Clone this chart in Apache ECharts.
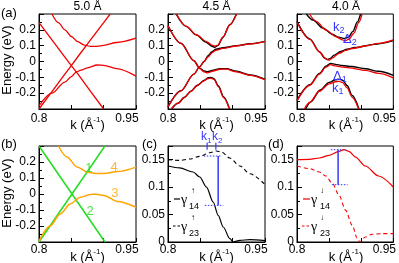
<!DOCTYPE html>
<html><head><meta charset="utf-8">
<script src="https://cdn.jsdelivr.net/npm/echarts@6/dist/echarts.min.js"></script>
<style>html,body{margin:0;padding:0;background:#fff}#c{width:399px;height:263px}</style>
</head><body><div id="c"></div>
<script>
// ---------- data ----------
const panelTitles = ['5.0 Å', '4.5 Å', '4.0 Å'];
const energyTickLabels = [-0.2, -0.1, 0, 0.1, 0.2];
const gammaTickLabels = [0, 0.05, 0.1, 0.15];
const kTickLabels = [0.8, 0.95];

// (a) 5.0 Å
const a1Line1 = [[0.8,-0.3],[0.82,-0.19],[0.84,-0.08],[0.85,-0.026],[0.86,0.03],[0.88,0.138],[0.9,0.245],[0.91,0.3]];
const a1Line2 = [[0.8,0.245],[0.82,0.136],[0.84,0.028],[0.85,-0.026],[0.86,-0.078],[0.88,-0.19],[0.9,-0.3]];
const a1Band4 = [[0.82,0.3],[0.83,0.245],[0.84,0.2],[0.85,0.158],[0.86,0.125],[0.87,0.104],[0.88,0.095],[0.89,0.096],[0.9,0.102],[0.92,0.12],[0.95,0.147]];
const a1Band3 = [[0.8,-0.28],[0.82,-0.2],[0.84,-0.13],[0.85,-0.095],[0.858,-0.065],[0.865,-0.055],[0.875,-0.04],[0.89,-0.022],[0.9,-0.024],[0.92,-0.045],[0.95,-0.092]];

// (a) 4.5 Å  red
const a2Upper = [[0.813,0.3],[0.8285,0.222],[0.844,0.169],[0.8595,0.126],[0.868,0.104],[0.8725,0.097],[0.877,0.104],[0.885,0.155],[0.8957,0.232],[0.906,0.3]];
const a2Mid2  = [[0.8,-0.286],[0.82,-0.185],[0.84,-0.08],[0.849,-0.034],[0.856,0.0],[0.862,0.03],[0.868,0.055],[0.874,0.07],[0.885,0.083],[0.906,0.098],[0.927,0.111],[0.95,0.126]];
const a2Mid1  = [[0.8,0.226],[0.82,0.115],[0.84,0.005],[0.849,-0.045],[0.856,-0.066],[0.861,-0.072],[0.87,-0.06],[0.88,-0.049],[0.89,-0.048],[0.906,-0.066],[0.927,-0.088],[0.95,-0.115]];
const a2Lower = [[0.805,-0.3],[0.815,-0.265],[0.825,-0.228],[0.835,-0.19],[0.845,-0.153],[0.855,-0.124],[0.862,-0.108],[0.866,-0.105],[0.871,-0.113],[0.878,-0.16],[0.886,-0.228],[0.895,-0.3]];
// (a) 4.5 Å  black
const a2UpperK = [[0.8125,0.3],[0.828,0.222],[0.8435,0.168],[0.859,0.122],[0.867,0.098],[0.872,0.089],[0.877,0.1],[0.885,0.152],[0.8955,0.232],[0.9058,0.3]];
const a2Mid2K  = [[0.8,-0.286],[0.82,-0.185],[0.84,-0.08],[0.849,-0.034],[0.856,0.002],[0.862,0.036],[0.868,0.062],[0.874,0.077],[0.885,0.087],[0.906,0.1],[0.927,0.112],[0.95,0.127]];
const a2Mid1K  = [[0.8,0.226],[0.82,0.115],[0.84,0.005],[0.849,-0.042],[0.856,-0.06],[0.861,-0.065],[0.87,-0.055],[0.88,-0.045],[0.89,-0.045],[0.906,-0.062],[0.927,-0.085],[0.95,-0.112]];
const a2LowerK = [[0.8055,-0.3],[0.8155,-0.264],[0.8255,-0.226],[0.8355,-0.187],[0.8455,-0.15],[0.8555,-0.12],[0.862,-0.103],[0.866,-0.1],[0.871,-0.108],[0.878,-0.155],[0.886,-0.224],[0.8952,-0.3]];

// (a) 4.0 Å  red
const a3Upper = [[0.8195,0.3],[0.83,0.254],[0.845,0.2],[0.86,0.158],[0.8707,0.137],[0.875,0.131],[0.881,0.141],[0.8886,0.179],[0.8963,0.248],[0.9014,0.3]];
const a3Mid2  = [[0.8,0.248],[0.82,0.14],[0.835,0.06],[0.845,0.017],[0.85,0.008],[0.855,0.022],[0.8655,0.052],[0.8758,0.07],[0.886,0.082],[0.9065,0.098],[0.927,0.115],[0.95,0.137]];
const a3Mid1  = [[0.8,-0.248],[0.82,-0.15],[0.835,-0.08],[0.845,-0.036],[0.852,-0.02],[0.86,-0.028],[0.868,-0.034],[0.881,-0.04],[0.9065,-0.056],[0.927,-0.075],[0.95,-0.103]];
const a3Lower = [[0.8115,-0.3],[0.8195,-0.259],[0.8348,-0.188],[0.85,-0.141],[0.86,-0.128],[0.8655,-0.126],[0.871,-0.133],[0.878,-0.167],[0.886,-0.226],[0.896,-0.3]];
// (a) 4.0 Å  black
const a3UpperK = [[0.8145,0.3],[0.825,0.262],[0.84,0.212],[0.855,0.172],[0.865,0.153],[0.874,0.145],[0.88,0.153],[0.887,0.19],[0.894,0.25],[0.899,0.3]];
const a3Mid2K  = [[0.8,0.252],[0.82,0.143],[0.835,0.062],[0.843,0.022],[0.847,0.012],[0.851,0.018],[0.858,0.04],[0.868,0.063],[0.878,0.078],[0.89,0.088],[0.92,0.108],[0.95,0.132]];
const a3Mid1K  = [[0.8,-0.245],[0.82,-0.147],[0.835,-0.076],[0.845,-0.03],[0.852,-0.012],[0.86,-0.018],[0.87,-0.025],[0.885,-0.032],[0.9065,-0.046],[0.927,-0.062],[0.95,-0.088]];
const a3LowerK = [[0.8135,-0.3],[0.8215,-0.255],[0.836,-0.18],[0.85,-0.132],[0.86,-0.115],[0.8655,-0.112],[0.871,-0.118],[0.878,-0.152],[0.886,-0.215],[0.8965,-0.3]];

// (b) unperturbed bands
const bLine1 = [[0.8,-0.3],[0.902,0.3]];
const bLine2 = [[0.8,0.3],[0.902,-0.3]];
const bBand4 = [[0.83,0.3],[0.8432,0.232],[0.8589,0.169],[0.8745,0.138],[0.8875,0.128],[0.9005,0.128],[0.9214,0.14],[0.95,0.168]];
const bBand3 = [[0.8,-0.294],[0.8172,-0.2],[0.8328,-0.125],[0.8484,-0.062],[0.864,-0.02],[0.8797,-0.003],[0.8875,-0.001],[0.9005,-0.009],[0.9214,-0.047],[0.95,-0.083]];
const bLabels = [['1',0.8773,0.162],['2',0.8789,-0.106],['4',0.916,0.169],['3',0.9175,0.006]];

// (c) spin up
const cGamma14 = [[0.8,0.1385],[0.818,0.135],[0.8388,0.1276],[0.8491,0.1185],[0.8595,0.1002],[0.8698,0.0729],[0.8776,0.0486],[0.8854,0.0273],[0.8957,0.006],[0.9009,0.0],[0.9112,0.003],[0.9267,0.0043],[0.95,0.0024]];
const cGamma23 = [[0.8,0.15],[0.8181,0.1488],[0.8336,0.1513],[0.8491,0.1561],[0.8647,0.1628],[0.875,0.1659],[0.8828,0.164],[0.8957,0.1531],[0.9112,0.1385],[0.9267,0.1245],[0.95,0.1045]];
const cBar = [[0.8776,0.1567],[0.8776,0.0668]];
const cCapTop = [[0.8554,0.1567],[0.8812,0.1567]];
const cCapBot = [[0.857,0.0668],[0.8854,0.0668]];
const cK1Mark = [[0.8605,0.168],[0.8605,0.181]];
const cK2Mark = [[0.874,0.168],[0.874,0.181]];

// (d) spin down
const dGamma14 = [[0.8,0.15],[0.8195,0.1507],[0.8348,0.1531],[0.8502,0.158],[0.8655,0.1652],[0.8732,0.1683],[0.8809,0.1652],[0.8911,0.1549],[0.9065,0.1385],[0.927,0.1203],[0.95,0.1002]];
const dGamma23 = [[0.8,0.1385],[0.8195,0.1337],[0.8348,0.1276],[0.8451,0.1203],[0.8553,0.1063],[0.8655,0.085],[0.8758,0.0577],[0.886,0.0304],[0.8937,0.0073],[0.8978,0.0],[0.9065,0.0091],[0.9167,0.014],[0.9321,0.0152],[0.95,0.0152]];
const dBar = [[0.864,0.1683],[0.864,0.1045]];
const dCapTop = [[0.8527,0.1683],[0.8768,0.1683]];
const dCapBot = [[0.8543,0.1045],[0.8788,0.1045]];

// ---------- styling / layout ----------
const FONT = '"Liberation Sans", Arial, sans-serif';
const SERIF = '"Liberation Serif", "Times New Roman", serif';
const RED = '#f00000', BLACK = '#000', GREEN = '#22dd22', ORANGE = '#ffa500', BLUE = '#3636ff';

const grids = [
  {left:39, top:14, width:97, height:95},
  {left:168, top:14, width:97, height:95},
  {left:297, top:14, width:98, height:95},
  {left:39, top:146, width:97, height:96},
  {left:168, top:146, width:97, height:96},
  {left:297, top:146, width:98, height:96}
].map(g => Object.assign({show:true, borderColor:'#000', borderWidth:1, backgroundColor:'transparent'}, g));

function xAx(i, margin) {
  return {gridIndex:i, type:'value', min:0.8, max:0.95, interval:0.05,
    axisLine:{show:true, onZero:false, lineStyle:{color:'#000', width:1}},
    axisTick:{show:true, inside:true, length:4, lineStyle:{color:'#000', width:1}},
    axisLabel:{show:true, customValues:kTickLabels, margin:margin, color:'#000', fontSize:12, fontFamily:FONT,
      formatter: v => Math.abs(v-0.95) < 1e-6 ? '{r|0.95}' : '0.8',
      rich:{r:{fontSize:12, fontFamily:FONT, color:'#000', padding:[0,18,0,0]}}},
    splitLine:{show:false}};
}
function yAx(i, min, max, interval, labels) {
  return {gridIndex:i, type:'value', min:min, max:max, interval:interval,
    axisLine:{show:true, onZero:false, lineStyle:{color:'#000', width:1}},
    axisTick:{show:true, inside:true, length:5, lineStyle:{color:'#000', width:1}},
    minorTick:{show:true, splitNumber:2, length:3, lineStyle:{color:'#000', width:1}},
    axisLabel:{show:true, customValues:labels, margin:3, color:'#000', fontSize:12, fontFamily:FONT,
      formatter: v => String(Math.round(v*100)/100)},
    splitLine:{show:false}, minorSplitLine:{show:false}};
}

function ln(g, data, color, extra) {
  extra = extra || {};
  return {type:'line', xAxisIndex:g, yAxisIndex:g, data:data, showSymbol:false, symbol:'none',
    smooth: extra.smooth === undefined ? 0.3 : extra.smooth, smoothMonotone:'x',
    clip: extra.clip === undefined ? true : extra.clip, silent:true, animation:false, z: extra.z || 2,
    lineStyle:{color:color, width: extra.width || 1.3, type: extra.type || 'solid'}};
}

const series = [
  ln(0,a1Line1,RED,{smooth:false}), ln(0,a1Line2,RED,{smooth:false}), ln(0,a1Band4,RED), ln(0,a1Band3,RED),
  ln(1,a2UpperK,BLACK,{width:1.4}), ln(1,a2Mid2K,BLACK,{width:1.4}), ln(1,a2Mid1K,BLACK,{width:1.4}), ln(1,a2LowerK,BLACK,{width:1.4}),
  ln(1,a2Upper,RED,{z:3}), ln(1,a2Mid2,RED,{z:3}), ln(1,a2Mid1,RED,{z:3}), ln(1,a2Lower,RED,{z:3}),
  ln(2,a3UpperK,BLACK,{width:1.4}), ln(2,a3Mid2K,BLACK,{width:1.4}), ln(2,a3Mid1K,BLACK,{width:1.4}), ln(2,a3LowerK,BLACK,{width:1.4}),
  ln(2,a3Upper,RED,{z:3}), ln(2,a3Mid2,RED,{z:3}), ln(2,a3Mid1,RED,{z:3}), ln(2,a3Lower,RED,{z:3}),
  ln(3,bLine1,GREEN,{smooth:false,width:1.5}), ln(3,bLine2,GREEN,{smooth:false,width:1.5}),
  ln(3,bBand4,ORANGE,{width:1.5}), ln(3,bBand3,ORANGE,{width:1.5}),
  {type:'scatter', xAxisIndex:3, yAxisIndex:3, data:bLabels.map(l => [l[1], l[2]]), symbolSize:0, silent:true, animation:false, z:5,
   label:{show:true, position:'inside', fontSize:13, fontFamily:FONT,
     formatter: p => '{' + (p.dataIndex < 2 ? 'g' : 'o') + '|' + bLabels[p.dataIndex][0] + '}',
     rich:{g:{color:GREEN, fontSize:13, fontFamily:FONT}, o:{color:ORANGE, fontSize:13, fontFamily:FONT}}},
   itemStyle:{color:'transparent'}},
  ln(4,cGamma14,BLACK,{width:1.2}), ln(4,cGamma23,BLACK,{width:1.1,type:[4,3]}),
  ln(4,cBar,BLUE,{smooth:false,width:1.5}), ln(4,cCapTop,BLUE,{smooth:false,width:1,type:[1.5,1.5]}), ln(4,cCapBot,BLUE,{smooth:false,width:1,type:[1.5,1.5]}),
  ln(4,cK1Mark,BLUE,{smooth:false,width:1.2,clip:false}), ln(4,cK2Mark,BLUE,{smooth:false,width:1.2,clip:false}),
  ln(5,dGamma14,RED,{width:1.2}), ln(5,dGamma23,RED,{width:1.1,type:[4,3]}),
  ln(5,dBar,BLUE,{smooth:false,width:1.5}), ln(5,dCapTop,BLUE,{smooth:false,width:1,type:[1.5,1.5]}), ln(5,dCapBot,BLUE,{smooth:false,width:1,type:[1.5,1.5]})
];

function txt(x, y, text, o) {
  o = o || {};
  return {type:'text', x:x, y:y, rotation:o.rot || 0, silent:true, z:10,
    style:{text:text, fill:o.color || '#000', font:(o.size || 13) + 'px ' + (o.family || FONT),
      textAlign:o.align || 'center', textVerticalAlign:o.valign || 'middle', rich:o.rich}};
}
const kName = {n:{fontSize:13, fontFamily:FONT, fill:'#000', color:'#000', lineHeight:16, verticalAlign:'bottom'},
               s:{fontSize:8, fontFamily:FONT, fill:'#000', color:'#000', lineHeight:8, verticalAlign:'top'}};
function sub(color, big, small) {
  return {a:{fontSize:big, fontFamily:FONT, color:color, fill:color, lineHeight:14, verticalAlign:'top'},
          b:{fontSize:small, fontFamily:FONT, color:color, fill:color, lineHeight:9, verticalAlign:'bottom'}};
}
const graphic = [
  txt(1,13,'(a)',{align:'left'}), txt(1,144,'(b)',{align:'left'}), txt(142,144,'(c)',{align:'left'}), txt(268,144,'(d)',{align:'left'}),
  txt(87.5,7,panelTitles[0],{size:12}), txt(216.5,7,panelTitles[1],{size:12}), txt(346,7,panelTitles[2],{size:12}),
  txt(7,60,'Energy (eV)',{rot:Math.PI/2}), txt(7,193,'Energy (eV)',{rot:Math.PI/2}),
  txt(87.5,124,'{n|k (Å}{s|-1}{n|)}',{rich:kName}), txt(216.5,124,'{n|k (Å}{s|-1}{n|)}',{rich:kName}), txt(346,124,'{n|k (Å}{s|-1}{n|)}',{rich:kName}),
  txt(87.5,256,'{n|k (Å}{s|-1}{n|)}',{rich:kName}), txt(216.5,256,'{n|k (Å}{s|-1}{n|)}',{rich:kName}), txt(346,256,'{n|k (Å}{s|-1}{n|)}',{rich:kName}),
  // (a) 4.0 Å annotations
  txt(333,28,'{a|k}{b|2}',{align:'left',color:BLUE,rich:sub(BLUE,13,9)}),
  txt(343,40,'{a|Δ}{b|2}',{align:'left',color:BLUE,rich:sub(BLUE,13,9)}),
  txt(333,77,'{a|Δ}{b|1}',{align:'left',color:BLUE,rich:sub(BLUE,13,9)}),
  txt(332,89,'{a|k}{b|1}',{align:'left',color:BLUE,rich:sub(BLUE,13,9)}),
  // (c) k1 k2
  txt(201,138,'{a|k}{b|1}',{align:'left',color:BLUE,rich:sub(BLUE,12,8)}),
  txt(212,138,'{a|k}{b|2}',{align:'left',color:BLUE,rich:sub(BLUE,12,8)}),
  // (c) legend
  {type:'line', silent:true, shape:{x1:174,y1:199,x2:180,y2:199}, style:{stroke:BLACK, lineWidth:1.2}},
  txt(184,200,'γ',{size:14,family:SERIF}), txt(191,191,'↑',{size:8,align:'left'}), txt(189,207,'14',{size:9,align:'left'}),
  {type:'line', silent:true, shape:{x1:173,y1:226,x2:181,y2:226}, style:{stroke:BLACK, lineWidth:1.1, lineDash:[2.5,2]}},
  txt(184,227,'γ',{size:14,family:SERIF}), txt(191,218,'↑',{size:8,align:'left'}), txt(189,234,'23',{size:9,align:'left'}),
  // (d) legend
  {type:'line', silent:true, shape:{x1:303,y1:199,x2:310,y2:199}, style:{stroke:RED, lineWidth:1.2}},
  txt(314,200,'γ',{size:14,family:SERIF}), txt(320,191,'↓',{size:8,align:'left'}), txt(320,207,'14',{size:9,align:'left'}),
  {type:'line', silent:true, shape:{x1:302,y1:226,x2:310,y2:226}, style:{stroke:RED, lineWidth:1.1, lineDash:[2.5,2]}},
  txt(314,227,'γ',{size:14,family:SERIF}), txt(320,218,'↓',{size:8,align:'left'}), txt(320,234,'23',{size:9,align:'left'})
];

const option = {
  animation:false,
  backgroundColor:'#fff',
  grid: grids,
  xAxis: [xAx(0,4), xAx(1,4), xAx(2,4), xAx(3,2), xAx(4,2), xAx(5,2)],
  yAxis: [yAx(0,-0.3,0.3,0.1,energyTickLabels), yAx(1,-0.3,0.3,0.1,energyTickLabels), yAx(2,-0.3,0.3,0.1,energyTickLabels),
          yAx(3,-0.3,0.3,0.1,energyTickLabels), yAx(4,0,0.175,0.05,gammaTickLabels), yAx(5,0,0.175,0.05,gammaTickLabels)],
  series: series,
  graphic: graphic
};
const chart = echarts.init(document.getElementById('c'), null, {renderer:'canvas'});
chart.setOption(option);
</script>
</body></html>
